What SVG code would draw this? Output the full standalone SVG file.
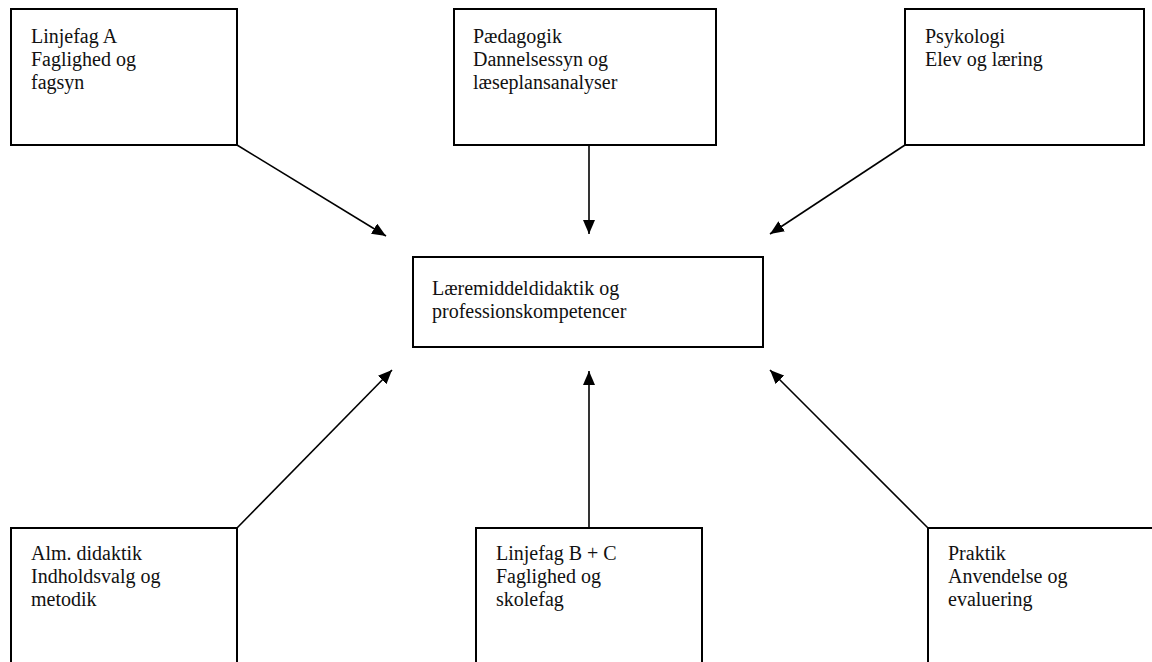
<svg xmlns="http://www.w3.org/2000/svg" width="1152" height="662" viewBox="0 0 1152 662">
<style>
.box{fill:#fff;stroke:#000;stroke-width:2}
.t{font-family:"Liberation Serif",serif;font-size:20px;fill:#111}
.c{stroke:#000;stroke-width:1.6;fill:none}
</style>
<defs>
<marker id="ah" viewBox="0 0 14 12" refX="14" refY="6" markerWidth="14" markerHeight="12" markerUnits="userSpaceOnUse" orient="auto">
<path d="M0,0 L14,6 L0,12 Z" fill="#000"/>
</marker>
</defs>
<rect width="1152" height="662" fill="#fff"/>
<g id="connectors">
<line class="c" x1="237" y1="145" x2="386" y2="236" marker-end="url(#ah)"/>
<line class="c" x1="589" y1="145" x2="589" y2="234" marker-end="url(#ah)"/>
<line class="c" x1="905" y1="145" x2="770" y2="234" marker-end="url(#ah)"/>
<line class="c" x1="237" y1="528" x2="392" y2="370" marker-end="url(#ah)"/>
<line class="c" x1="589" y1="528" x2="589" y2="371" marker-end="url(#ah)"/>
<line class="c" x1="928" y1="528" x2="770" y2="370" marker-end="url(#ah)"/>
</g>
<g id="linjefagA">
<rect class="box" x="11" y="9" width="226" height="136"/>
<text class="t" x="31" y="43">Linjefag A</text>
<text class="t" x="31" y="66">Faglighed og</text>
<text class="t" x="31" y="89">fagsyn</text>
</g>
<g id="paedagogik">
<rect class="box" x="454" y="9" width="262" height="136"/>
<text class="t" x="473" y="43">Pædagogik</text>
<text class="t" x="473" y="66">Dannelsessyn og</text>
<text class="t" x="473" y="89">læseplansanalyser</text>
</g>
<g id="psykologi">
<rect class="box" x="905" y="9" width="239" height="136"/>
<text class="t" x="925" y="43">Psykologi</text>
<text class="t" x="925" y="66">Elev og læring</text>
</g>
<g id="center">
<rect class="box" x="413" y="257" width="350" height="90"/>
<text class="t" x="432" y="295">Læremiddeldidaktik og</text>
<text class="t" x="432" y="318">professionskompetencer</text>
</g>
<g id="almdidaktik">
<rect class="box" x="11" y="528" width="226" height="140"/>
<text class="t" x="31" y="560">Alm. didaktik</text>
<text class="t" x="31" y="583">Indholdsvalg og</text>
<text class="t" x="31" y="606">metodik</text>
</g>
<g id="linjefagBC">
<rect class="box" x="476" y="528" width="226" height="140"/>
<text class="t" x="496" y="560">Linjefag B + C</text>
<text class="t" x="496" y="583">Faglighed og</text>
<text class="t" x="496" y="606">skolefag</text>
</g>
<g id="praktik">
<rect class="box" x="928" y="528" width="240" height="140"/>
<text class="t" x="948" y="560">Praktik</text>
<text class="t" x="948" y="583">Anvendelse og</text>
<text class="t" x="948" y="606">evaluering</text>
</g>
</svg>
